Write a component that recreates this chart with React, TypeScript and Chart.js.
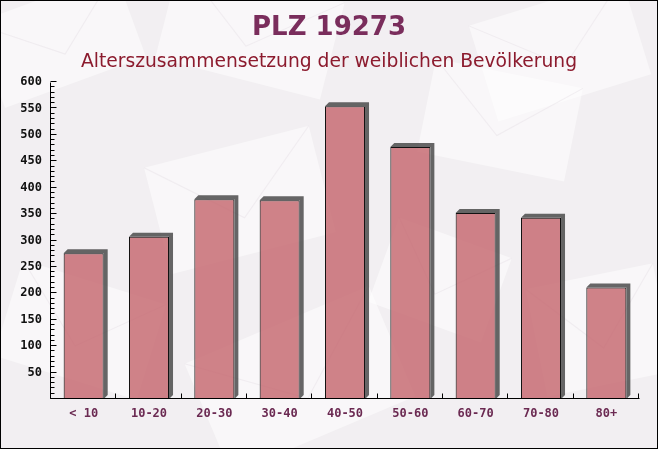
import React, { useEffect, useRef } from "react";
import { Chart, registerables } from "chart.js";

Chart.register(...registerables);

const categories = ["< 10", "10-20", "20-30", "30-40", "40-50", "50-60", "60-70", "70-80", "80+"];
const values = [276, 307, 378, 376, 554, 477, 352, 343, 211];
const yMin = 0;
const yMax = 600;
const yStep = 50;
const yMinorStep = 10;
const titleText = "PLZ 19273";
const subtitleText = "Alterszusammensetzung der weiblichen Bevölkerung";

const W = 658;
const H = 449;

const backgroundPlugin = {
  id: "bgTitles",
  beforeDraw(chart: any) {
    const ctx = chart.ctx;
    ctx.save();
    ctx.fillStyle = "#f2eff2";
    ctx.fillRect(0, 0, W, H);
    const shapes = [
      [60, 40, 150, 90, -0.35],
      [250, 30, 170, 100, 0.25],
      [560, 50, 160, 100, -0.3],
      [240, 200, 170, 110, -0.25],
      [500, 120, 150, 95, 0.2],
      [300, 380, 200, 120, -0.4],
      [80, 330, 150, 100, 0.3],
      [600, 330, 130, 110, -0.2],
      [440, 280, 120, 90, 0.35],
    ];
    for (const [cx, cy, w, h, r] of shapes) {
      ctx.save();
      ctx.translate(cx, cy);
      ctx.rotate(r);
      ctx.fillStyle = "rgba(255,255,255,0.5)";
      ctx.fillRect(-w / 2, -h / 2, w, h);
      ctx.strokeStyle = "rgba(232,226,232,0.5)";
      ctx.lineWidth = 1;
      ctx.beginPath();
      ctx.moveTo(-w / 2, -h / 2);
      ctx.lineTo(0, h / 6);
      ctx.lineTo(w / 2, -h / 2);
      ctx.stroke();
      ctx.restore();
    }
    ctx.textAlign = "center";
    ctx.textBaseline = "middle";
    ctx.fillStyle = "#7a2d5c";
    ctx.font = "bold 26px 'DejaVu Sans'";
    ctx.fillText(titleText, W / 2, 28);
    ctx.fillStyle = "#8c1b2e";
    ctx.font = "18.7px 'DejaVu Sans'";
    ctx.fillText(subtitleText, W / 2, 62);
    ctx.restore();
  },
  beforeDatasetsDraw(chart: any) {
    const ctx = chart.ctx;
    const meta = chart.getDatasetMeta(0);
    const d = 4;
    ctx.save();
    ctx.fillStyle = "rgba(60,60,60,0.78)";
    for (const el of meta.data) {
      const left = el.x - el.width / 2;
      const right = el.x + el.width / 2;
      const top = el.y;
      const base = el.base;
      ctx.beginPath();
      ctx.moveTo(left, top);
      ctx.lineTo(left + d, top - d);
      ctx.lineTo(right + d, top - d);
      ctx.lineTo(right + d, base - d);
      ctx.lineTo(right, base);
      ctx.lineTo(right, top);
      ctx.closePath();
      ctx.fill();
    }
    ctx.restore();
  },
  afterDraw(chart: any) {
    const ctx = chart.ctx;
    const a = chart.chartArea;
    const ys = chart.scales.y;
    const xs = chart.scales.x;
    ctx.save();
    ctx.strokeStyle = "#000";
    ctx.lineWidth = 1;
    ctx.beginPath();
    const ax = Math.round(a.left) - 0.5;
    const ay = Math.round(a.bottom) - 0.5;
    ctx.moveTo(ax, Math.round(ys.getPixelForValue(yMax)) + 0.5);
    ctx.lineTo(ax, ay);
    ctx.lineTo(Math.round(a.right) + 0.5, ay);
    for (let v = yMin; v <= yMax; v += yMinorStep) {
      const py = Math.round(ys.getPixelForValue(v)) - 0.5;
      const len = v % yStep === 0 ? 6 : 4;
      ctx.moveTo(ax, py);
      ctx.lineTo(ax + len, py);
    }
    const step = xs.getPixelForValue(1) - xs.getPixelForValue(0);
    for (let i = 0; i <= categories.length; i++) {
      const px = Math.round(xs.getPixelForValue(0) - step / 2 + i * step) - 0.5;
      ctx.moveTo(px, ay);
      ctx.lineTo(px, ay - 5);
    }
    ctx.stroke();
    ctx.strokeStyle = "#000";
    ctx.strokeRect(0.5, 0.5, W - 1, H - 1);
    ctx.restore();
  },
};

export default function App() {
  const ref = useRef<HTMLCanvasElement | null>(null);
  useEffect(() => {
    document.body.style.margin = "0";
    const canvas = ref.current!;
    const chart = new Chart(canvas, {
      type: "bar",
      data: {
        labels: categories,
        datasets: [
          {
            data: values,
            backgroundColor: "rgba(196,100,108,0.8)",
            borderColor: "#111",
            borderWidth: 1,
            borderSkipped: "bottom",
            categoryPercentage: 1,
            barPercentage: 0.613,
          },
        ],
      },
      options: {
        responsive: false,
        animation: false,
        devicePixelRatio: 1,
        layout: { padding: { top: 82, right: 19, left: 0, bottom: 0 } },
        plugins: { legend: { display: false }, title: { display: false }, tooltip: { enabled: false } },
        scales: {
          x: {
            grid: { display: false },
            border: { display: false },
            afterFit: (s: any) => {
              s.height = 50;
            },
            ticks: {
              color: "#6b2a52",
              padding: 0,
              font: { family: "'DejaVu Sans Mono'", size: 12, weight: "bold" },
              maxRotation: 0,
              autoSkip: false,
            },
          },
          y: {
            min: yMin,
            max: yMax,
            grid: { display: false },
            border: { display: false },
            afterFit: (s: any) => {
              s.width = 51;
            },
            ticks: {
              stepSize: yStep,
              color: "#111",
              padding: 1,
              font: { family: "'DejaVu Sans Mono'", size: 12, weight: "bold" },
              callback: (v: any) => (Number(v) === 0 ? "" : String(v)),
            },
          },
        },
      },
      plugins: [backgroundPlugin],
    });
    return () => chart.destroy();
  }, []);
  return <canvas ref={ref} width={W} height={H} style={{ display: "block", width: W, height: H }} />;
}
